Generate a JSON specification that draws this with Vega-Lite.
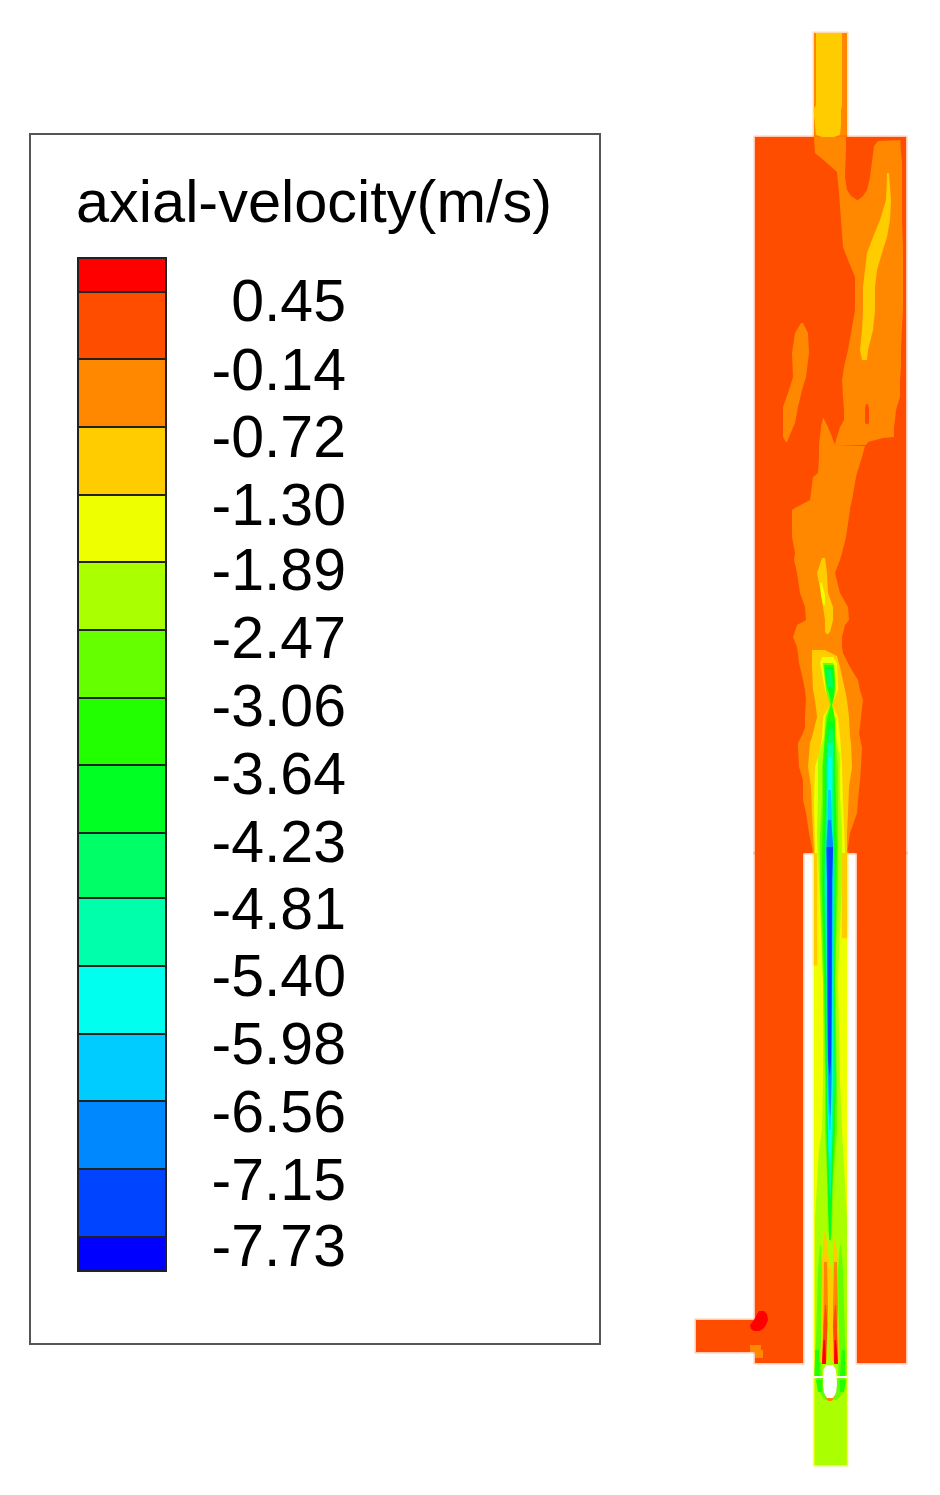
{"$schema":"https://vega.github.io/schema/vega-lite/v6.json","width":940,"height":1495,"padding":0,"autosize":{"type":"fit","contains":"padding"},"background":"white","view":{"stroke":null},
"config":{"axis":{"domain":false,"grid":false,"ticks":false,"labels":false,"title":null}},
"encoding":{},
"datasets":{
"bands":[
{"level":"L01","top":258,"bottom":292},{"level":"L02","top":292,"bottom":359},{"level":"L03","top":359,"bottom":427},{"level":"L04","top":427,"bottom":495},{"level":"L05","top":495,"bottom":562},{"level":"L06","top":562,"bottom":630},{"level":"L07","top":630,"bottom":698},{"level":"L08","top":698,"bottom":765},{"level":"L09","top":765,"bottom":833},{"level":"L10","top":833,"bottom":898},{"level":"L11","top":898,"bottom":966},{"level":"L12","top":966,"bottom":1034},{"level":"L13","top":1034,"bottom":1101},{"level":"L14","top":1101,"bottom":1169},{"level":"L15","top":1169,"bottom":1237},{"level":"L16","top":1237,"bottom":1271}],
"labels":[{"t":"0.45","y":321},{"t":"-0.14","y":390},{"t":"-0.72","y":457},{"t":"-1.30","y":525},{"t":"-1.89","y":590},{"t":"-2.47","y":658},{"t":"-3.06","y":726},{"t":"-3.64","y":794},{"t":"-4.23","y":862},{"t":"-4.81","y":929},{"t":"-5.40","y":996},{"t":"-5.98","y":1064},{"t":"-6.56","y":1132},{"t":"-7.15","y":1200},{"t":"-7.73","y":1266}],
"base":[
{"level":"L03","x":814,"x2":847,"y":33,"y2":137},
{"level":"L02","x":755,"x2":906,"y":137,"y2":853},
{"level":"L02","x":755,"x2":803,"y":853,"y2":1363},
{"level":"L02","x":857,"x2":906,"y":853,"y2":1363},
{"level":"L02","x":696,"x2":755,"y":1320,"y2":1352},
{"level":"L05","x":814,"x2":847,"y":853,"y2":1376},
{"level":"L05","x":814,"x2":847,"y":1378,"y2":1465},
{"level":"L06","x":815,"x2":846.5,"y":1378,"y2":1465},
{"level":"L04","x":814,"x2":817,"y":853,"y2":965},
{"level":"L04","x":842,"x2":847,"y":853,"y2":938}],
"spots":[
{"level":"void","x":814,"x2":823,"y":1376,"y2":1378},
{"level":"void","x":837,"x2":847,"y":1376,"y2":1378},
{"level":"L03","x":750,"x2":761,"y":1345,"y2":1352},
{"level":"L03","x":755,"x2":763,"y":1350,"y2":1358}],
"regions":[
{"region":"pipeY","level":"L04","y":33,"x":816,"x2":842},{"region":"pipeY","level":"L04","y":105,"x":816,"x2":842},{"region":"pipeY","level":"L04","y":110,"x":813.5,"x2":841},{"region":"pipeY","level":"L04","y":125,"x":815,"x2":841},{"region":"pipeY","level":"L04","y":135,"x":816,"x2":840},{"region":"pipeY","level":"L04","y":137,"x":822,"x2":834},
{"region":"A","level":"L03","y":137,"x":814,"x2":900},{"region":"A","level":"L03","y":153,"x":815,"x2":901},{"region":"A","level":"L03","y":163,"x":827,"x2":902},{"region":"A","level":"L03","y":172,"x":837,"x2":902},{"region":"A","level":"L03","y":193,"x":839,"x2":902},{"region":"A","level":"L03","y":220,"x":841,"x2":902},{"region":"A","level":"L03","y":247,"x":843,"x2":903},{"region":"A","level":"L03","y":260,"x":848,"x2":903},{"region":"A","level":"L03","y":277,"x":855,"x2":903},{"region":"A","level":"L03","y":310,"x":855,"x2":903},{"region":"A","level":"L03","y":327,"x":852,"x2":902},{"region":"A","level":"L03","y":350,"x":848,"x2":901},{"region":"A","level":"L03","y":367,"x":844,"x2":901},{"region":"A","level":"L03","y":380,"x":842,"x2":900},{"region":"A","level":"L03","y":397,"x":843,"x2":900},{"region":"A","level":"L03","y":410,"x":844,"x2":896},{"region":"A","level":"L03","y":420,"x":844,"x2":895},{"region":"A","level":"L03","y":427,"x":840,"x2":894},{"region":"A","level":"L03","y":437,"x":837,"x2":894},{"region":"A","level":"L03","y":438,"x":836.5,"x2":883},{"region":"A","level":"L03","y":442,"x":835.5,"x2":868},{"region":"A","level":"L03","y":445,"x":835,"x2":866},
{"region":"B","level":"L03","y":418,"x":823,"x2":823.5},{"region":"B","level":"L03","y":427,"x":821,"x2":828},{"region":"B","level":"L03","y":437,"x":820,"x2":832},{"region":"B","level":"L03","y":445,"x":819,"x2":835},{"region":"B","level":"L03","y":446,"x":819,"x2":865},{"region":"B","level":"L03","y":457,"x":819,"x2":862},{"region":"B","level":"L03","y":473,"x":818,"x2":857},{"region":"B","level":"L03","y":477,"x":813,"x2":856},{"region":"B","level":"L03","y":500,"x":810,"x2":852},{"region":"B","level":"L03","y":508,"x":795,"x2":850},{"region":"B","level":"L03","y":510,"x":792,"x2":850},{"region":"B","level":"L03","y":537,"x":792,"x2":846},{"region":"B","level":"L03","y":553,"x":795,"x2":842},{"region":"B","level":"L03","y":560,"x":794,"x2":840},{"region":"B","level":"L03","y":573,"x":797,"x2":835},{"region":"B","level":"L03","y":593,"x":800,"x2":840},{"region":"B","level":"L03","y":607,"x":805,"x2":848},{"region":"B","level":"L03","y":620,"x":806,"x2":849},{"region":"B","level":"L03","y":625,"x":797,"x2":845},{"region":"B","level":"L03","y":637,"x":793,"x2":842},{"region":"B","level":"L03","y":647,"x":797,"x2":842},{"region":"B","level":"L03","y":653,"x":798,"x2":843},{"region":"B","level":"L03","y":663,"x":799,"x2":848},{"region":"B","level":"L03","y":667,"x":800,"x2":850},{"region":"B","level":"L03","y":680,"x":803,"x2":858},{"region":"B","level":"L03","y":690,"x":805,"x2":860},{"region":"B","level":"L03","y":700,"x":806,"x2":863},{"region":"B","level":"L03","y":717,"x":805,"x2":861},{"region":"B","level":"L03","y":727,"x":805,"x2":860},{"region":"B","level":"L03","y":733,"x":803,"x2":859},{"region":"B","level":"L03","y":743,"x":798,"x2":861},{"region":"B","level":"L03","y":747,"x":798,"x2":862},{"region":"B","level":"L03","y":767,"x":799,"x2":861},{"region":"B","level":"L03","y":780,"x":803,"x2":860},{"region":"B","level":"L03","y":800,"x":803,"x2":858},{"region":"B","level":"L03","y":813,"x":806,"x2":857},{"region":"B","level":"L03","y":833,"x":809,"x2":850},{"region":"B","level":"L03","y":853,"x":813,"x2":847},
{"region":"C","level":"L03","y":323,"x":801,"x2":803},{"region":"C","level":"L03","y":333,"x":795,"x2":808},{"region":"C","level":"L03","y":353,"x":792,"x2":809},{"region":"C","level":"L03","y":377,"x":793,"x2":806},{"region":"C","level":"L03","y":390,"x":789,"x2":802},{"region":"C","level":"L03","y":407,"x":783,"x2":798},{"region":"C","level":"L03","y":423,"x":783,"x2":795},{"region":"C","level":"L03","y":437,"x":783,"x2":789},{"region":"C","level":"L03","y":442,"x":786,"x2":787},
{"region":"H1","level":"L02","y":137,"x":846,"x2":906},{"region":"H1","level":"L02","y":140,"x":846,"x2":905},{"region":"H1","level":"L02","y":141,"x":846,"x2":878},{"region":"H1","level":"L02","y":146,"x":846,"x2":874},{"region":"H1","level":"L02","y":177,"x":845,"x2":870},{"region":"H1","level":"L02","y":190,"x":847,"x2":867},{"region":"H1","level":"L02","y":196,"x":851,"x2":863},{"region":"H1","level":"L02","y":200,"x":857,"x2":858},
{"region":"H2","level":"L02","y":404,"x":866,"x2":867.5},{"region":"H2","level":"L02","y":408,"x":865,"x2":869},{"region":"H2","level":"L02","y":423,"x":865,"x2":869},{"region":"H2","level":"L02","y":424,"x":866,"x2":868},
{"region":"D","level":"L04","y":173,"x":887,"x2":889},{"region":"D","level":"L04","y":200,"x":886,"x2":891},{"region":"D","level":"L04","y":220,"x":880,"x2":890},{"region":"D","level":"L04","y":237,"x":873,"x2":887},{"region":"D","level":"L04","y":253,"x":867,"x2":882},{"region":"D","level":"L04","y":270,"x":865,"x2":877},{"region":"D","level":"L04","y":287,"x":863,"x2":875},{"region":"D","level":"L04","y":310,"x":863,"x2":875},{"region":"D","level":"L04","y":330,"x":862,"x2":873},{"region":"D","level":"L04","y":350,"x":860,"x2":868},{"region":"D","level":"L04","y":360,"x":862,"x2":867},
{"region":"E","level":"L04","y":558,"x":822,"x2":825},{"region":"E","level":"L04","y":573,"x":817,"x2":827},{"region":"E","level":"L04","y":593,"x":821,"x2":828},{"region":"E","level":"L04","y":607,"x":823,"x2":833},{"region":"E","level":"L04","y":620,"x":825,"x2":833},{"region":"E","level":"L04","y":632,"x":825,"x2":830},{"region":"E","level":"L04","y":634,"x":827,"x2":828},
{"region":"F","level":"L05","y":583,"x":820,"x2":822},{"region":"F","level":"L05","y":595,"x":821,"x2":825},{"region":"F","level":"L05","y":605,"x":823,"x2":825},
{"region":"G","level":"L04","y":650,"x":812,"x2":825},{"region":"G","level":"L04","y":656,"x":812,"x2":837},{"region":"G","level":"L04","y":667,"x":812,"x2":840},{"region":"G","level":"L04","y":690,"x":813,"x2":845},{"region":"G","level":"L04","y":700,"x":815,"x2":847},{"region":"G","level":"L04","y":717,"x":817,"x2":849},{"region":"G","level":"L04","y":737,"x":812,"x2":850},{"region":"G","level":"L04","y":743,"x":810,"x2":851},{"region":"G","level":"L04","y":767,"x":808,"x2":852},{"region":"G","level":"L04","y":787,"x":811,"x2":849},{"region":"G","level":"L04","y":813,"x":812,"x2":848},{"region":"G","level":"L04","y":833,"x":813,"x2":847},{"region":"G","level":"L04","y":853,"x":814,"x2":847},
{"region":"Y","level":"L05","y":657,"x":822,"x2":833},{"region":"Y","level":"L05","y":663,"x":820,"x2":837},{"region":"Y","level":"L05","y":690,"x":825,"x2":838},{"region":"Y","level":"L05","y":700,"x":829,"x2":834},{"region":"Y","level":"L05","y":705,"x":830,"x2":832},{"region":"Y","level":"L05","y":717,"x":823,"x2":838},{"region":"Y","level":"L05","y":737,"x":822,"x2":840},{"region":"Y","level":"L05","y":750,"x":820,"x2":841},{"region":"Y","level":"L05","y":767,"x":815,"x2":842},{"region":"Y","level":"L05","y":800,"x":814,"x2":843},{"region":"Y","level":"L05","y":853,"x":815,"x2":845},
{"region":"J6","level":"L06","y":664,"x":824,"x2":834},{"region":"J6","level":"L06","y":690,"x":826,"x2":836},{"region":"J6","level":"L06","y":705,"x":830,"x2":832},{"region":"J6","level":"L06","y":717,"x":825,"x2":835},{"region":"J6","level":"L06","y":737,"x":824,"x2":836},{"region":"J6","level":"L06","y":757,"x":818,"x2":840},{"region":"J6","level":"L06","y":800,"x":818,"x2":840},{"region":"J6","level":"L06","y":833,"x":817,"x2":842},{"region":"J6","level":"L06","y":880,"x":819,"x2":842},{"region":"J6","level":"L06","y":980,"x":823,"x2":838},{"region":"J6","level":"L06","y":1080,"x":823,"x2":840},{"region":"J6","level":"L06","y":1130,"x":822,"x2":842},{"region":"J6","level":"L06","y":1150,"x":819,"x2":843},{"region":"J6","level":"L06","y":1220,"x":815,"x2":847},{"region":"J6","level":"L06","y":1376,"x":815,"x2":847},
{"region":"J7","level":"L07","y":663,"x":823,"x2":833},{"region":"J7","level":"L07","y":690,"x":826,"x2":835},{"region":"J7","level":"L07","y":705,"x":830,"x2":832},{"region":"J7","level":"L07","y":717,"x":826,"x2":834},{"region":"J7","level":"L07","y":737,"x":825,"x2":835},{"region":"J7","level":"L07","y":767,"x":822,"x2":838},{"region":"J7","level":"L07","y":800,"x":822,"x2":838},{"region":"J7","level":"L07","y":833,"x":820,"x2":838},{"region":"J7","level":"L07","y":880,"x":820,"x2":838},{"region":"J7","level":"L07","y":980,"x":823,"x2":835},{"region":"J7","level":"L07","y":1080,"x":825,"x2":837},{"region":"J7","level":"L07","y":1130,"x":825,"x2":837},{"region":"J7","level":"L07","y":1180,"x":827,"x2":833},{"region":"J7","level":"L07","y":1230,"x":828,"x2":832},{"region":"J7","level":"L07","y":1240,"x":829.5,"x2":830.5},
{"region":"J8","level":"L08","y":665,"x":824,"x2":834},{"region":"J8","level":"L08","y":683,"x":826,"x2":835},{"region":"J8","level":"L08","y":697,"x":830,"x2":834},{"region":"J8","level":"L08","y":705,"x":831,"x2":832},{"region":"J8","level":"L08","y":720,"x":827,"x2":835},{"region":"J8","level":"L08","y":733,"x":825,"x2":835},{"region":"J8","level":"L08","y":767,"x":823,"x2":835},{"region":"J8","level":"L08","y":800,"x":823,"x2":836},{"region":"J8","level":"L08","y":850,"x":822,"x2":837},{"region":"J8","level":"L08","y":880,"x":821.5,"x2":836.5},{"region":"J8","level":"L08","y":980,"x":824,"x2":835},{"region":"J8","level":"L08","y":1080,"x":826,"x2":836},{"region":"J8","level":"L08","y":1130,"x":826,"x2":835},{"region":"J8","level":"L08","y":1200,"x":828.5,"x2":831.5},{"region":"J8","level":"L08","y":1240,"x":829.5,"x2":830.5},
{"region":"J9a","level":"L09","y":667,"x":825,"x2":833},{"region":"J9a","level":"L09","y":683,"x":827,"x2":834},{"region":"J9a","level":"L09","y":697,"x":830.5,"x2":833},
{"region":"J9b","level":"L09","y":722,"x":828,"x2":834},{"region":"J9b","level":"L09","y":767,"x":825.5,"x2":834.5},{"region":"J9b","level":"L09","y":800,"x":825,"x2":835},{"region":"J9b","level":"L09","y":850,"x":824,"x2":836},{"region":"J9b","level":"L09","y":880,"x":823,"x2":835},{"region":"J9b","level":"L09","y":980,"x":825,"x2":834},{"region":"J9b","level":"L09","y":1080,"x":826,"x2":835},{"region":"J9b","level":"L09","y":1130,"x":827,"x2":833},{"region":"J9b","level":"L09","y":1200,"x":828,"x2":832},{"region":"J9b","level":"L09","y":1240,"x":829.5,"x2":830.5},
{"region":"J10a","level":"L10","y":670,"x":826,"x2":831},{"region":"J10a","level":"L10","y":687,"x":828,"x2":833},
{"region":"J10b","level":"L10","y":730,"x":829,"x2":833},{"region":"J10b","level":"L10","y":743,"x":827,"x2":834},{"region":"J10b","level":"L10","y":767,"x":826,"x2":834},{"region":"J10b","level":"L10","y":800,"x":826,"x2":834},{"region":"J10b","level":"L10","y":833,"x":825,"x2":834},{"region":"J10b","level":"L10","y":880,"x":824,"x2":835},{"region":"J10b","level":"L10","y":980,"x":826,"x2":834},{"region":"J10b","level":"L10","y":1080,"x":827,"x2":835},{"region":"J10b","level":"L10","y":1130,"x":828,"x2":833},{"region":"J10b","level":"L10","y":1180,"x":829,"x2":831},{"region":"J10b","level":"L10","y":1200,"x":830,"x2":830.5},
{"region":"J11","level":"L11","y":743,"x":828,"x2":833},{"region":"J11","level":"L11","y":770,"x":827,"x2":833},{"region":"J11","level":"L11","y":800,"x":827,"x2":832.5},{"region":"J11","level":"L11","y":830,"x":826,"x2":833},{"region":"J11","level":"L11","y":880,"x":825,"x2":833},{"region":"J11","level":"L11","y":980,"x":826.5,"x2":833.5},{"region":"J11","level":"L11","y":1080,"x":827,"x2":833},{"region":"J11","level":"L11","y":1130,"x":828,"x2":832.5},{"region":"J11","level":"L11","y":1180,"x":829,"x2":831},{"region":"J11","level":"L11","y":1195,"x":830,"x2":830.5},
{"region":"J12","level":"L12","y":757,"x":828,"x2":832},{"region":"J12","level":"L12","y":783,"x":827.5,"x2":832},{"region":"J12","level":"L12","y":820,"x":827.5,"x2":832},{"region":"J12","level":"L12","y":880,"x":826,"x2":833},{"region":"J12","level":"L12","y":980,"x":827,"x2":833},{"region":"J12","level":"L12","y":1080,"x":827,"x2":832.5},{"region":"J12","level":"L12","y":1120,"x":828,"x2":832},{"region":"J12","level":"L12","y":1150,"x":828.5,"x2":831.5},{"region":"J12","level":"L12","y":1160,"x":830,"x2":830.5},
{"region":"J13","level":"L13","y":790,"x":828,"x2":831},{"region":"J13","level":"L13","y":820,"x":827.5,"x2":832},{"region":"J13","level":"L13","y":880,"x":826.5,"x2":832.5},{"region":"J13","level":"L13","y":980,"x":827,"x2":832.5},{"region":"J13","level":"L13","y":1080,"x":827.5,"x2":832},{"region":"J13","level":"L13","y":1110,"x":828.5,"x2":831},{"region":"J13","level":"L13","y":1130,"x":829.5,"x2":830.5},
{"region":"J14","level":"L14","y":820,"x":828,"x2":831},{"region":"J14","level":"L14","y":843,"x":826.5,"x2":833},{"region":"J14","level":"L14","y":880,"x":827,"x2":832.5},{"region":"J14","level":"L14","y":980,"x":827.5,"x2":832},{"region":"J14","level":"L14","y":1060,"x":828,"x2":831.5},{"region":"J14","level":"L14","y":1100,"x":829,"x2":831},{"region":"J14","level":"L14","y":1115,"x":830,"x2":830.5},
{"region":"J15","level":"L15","y":847,"x":826.5,"x2":833},{"region":"J15","level":"L15","y":880,"x":827,"x2":832},{"region":"J15","level":"L15","y":1000,"x":827.5,"x2":831.5},{"region":"J15","level":"L15","y":1060,"x":828,"x2":831},{"region":"J15","level":"L15","y":1075,"x":829.5,"x2":830},
{"region":"SL7","level":"L07","y":1245,"x":820,"x2":821},{"region":"SL7","level":"L07","y":1270,"x":818,"x2":822},{"region":"SL7","level":"L07","y":1340,"x":816,"x2":821},{"region":"SL7","level":"L07","y":1376,"x":814,"x2":822},
{"region":"SR7","level":"L07","y":1245,"x":840,"x2":841},{"region":"SR7","level":"L07","y":1270,"x":838,"x2":843},{"region":"SR7","level":"L07","y":1340,"x":839,"x2":845},{"region":"SR7","level":"L07","y":1376,"x":838,"x2":846},
{"region":"SL8","level":"L08","y":1350,"x":815,"x2":819},{"region":"SL8","level":"L08","y":1376,"x":815,"x2":820},
{"region":"SR8","level":"L08","y":1350,"x":842,"x2":845},{"region":"SR8","level":"L08","y":1376,"x":840,"x2":845},
{"region":"FL4","level":"L04","y":1232,"x":824.5,"x2":825.5},{"region":"FL4","level":"L04","y":1260,"x":822,"x2":829},{"region":"FL4","level":"L04","y":1290,"x":822,"x2":829},{"region":"FL4","level":"L04","y":1320,"x":822,"x2":828},{"region":"FL4","level":"L04","y":1362,"x":820,"x2":827},
{"region":"FR4","level":"L04","y":1240,"x":834.5,"x2":835.5},{"region":"FR4","level":"L04","y":1260,"x":833,"x2":838},{"region":"FR4","level":"L04","y":1290,"x":832,"x2":838},{"region":"FR4","level":"L04","y":1320,"x":832,"x2":838},{"region":"FR4","level":"L04","y":1362,"x":832,"x2":840},
{"region":"FL3","level":"L03","y":1262,"x":824,"x2":827},{"region":"FL3","level":"L03","y":1310,"x":823.5,"x2":828},{"region":"FL3","level":"L03","y":1330,"x":823,"x2":827},
{"region":"FR3","level":"L03","y":1262,"x":834,"x2":837},{"region":"FR3","level":"L03","y":1310,"x":833,"x2":838},{"region":"FR3","level":"L03","y":1330,"x":833,"x2":837},
{"region":"FL2","level":"L02","y":1305,"x":825,"x2":826},{"region":"FL2","level":"L02","y":1325,"x":823.5,"x2":827.5},{"region":"FL2","level":"L02","y":1362,"x":822,"x2":826},
{"region":"FR2","level":"L02","y":1305,"x":835,"x2":836},{"region":"FR2","level":"L02","y":1325,"x":833,"x2":837},{"region":"FR2","level":"L02","y":1362,"x":834,"x2":838},
{"region":"FL1","level":"L01","y":1340,"x":823.5,"x2":825},{"region":"FL1","level":"L01","y":1364,"x":822,"x2":826},
{"region":"FR1","level":"L01","y":1340,"x":834.5,"x2":836},{"region":"FR1","level":"L01","y":1364,"x":834,"x2":838},
{"region":"FC4","level":"L04","y":1265,"x":830,"x2":831},{"region":"FC4","level":"L04","y":1280,"x":828.5,"x2":832.5},{"region":"FC4","level":"L04","y":1320,"x":828.5,"x2":832},{"region":"FC4","level":"L04","y":1345,"x":829,"x2":831.5},{"region":"FC4","level":"L04","y":1360,"x":830,"x2":830.5},
{"region":"LL7","level":"L07","y":1378,"x":816,"x2":823},{"region":"LL7","level":"L07","y":1395,"x":821,"x2":827},{"region":"LL7","level":"L07","y":1400,"x":825,"x2":828},
{"region":"LR7","level":"L07","y":1378,"x":838,"x2":846},{"region":"LR7","level":"L07","y":1395,"x":834,"x2":841},{"region":"LR7","level":"L07","y":1400,"x":833,"x2":836},
{"region":"LL8","level":"L08","y":1380,"x":816,"x2":822},{"region":"LL8","level":"L08","y":1392,"x":818,"x2":822},
{"region":"LR8","level":"L08","y":1380,"x":840,"x2":846},{"region":"LR8","level":"L08","y":1392,"x":840,"x2":844},
{"region":"LA3","level":"L03","y":1396,"x":825,"x2":835},{"region":"LA3","level":"L03","y":1401,"x":828,"x2":832},
{"region":"hole","level":"void","y":1365,"x":826,"x2":833},{"region":"hole","level":"void","y":1370,"x":823.5,"x2":836},{"region":"hole","level":"void","y":1385,"x":823,"x2":837},{"region":"hole","level":"void","y":1393,"x":824,"x2":836},{"region":"hole","level":"void","y":1398,"x":827,"x2":833},
{"region":"red","level":"L01","y":1311,"x":759,"x2":764},{"region":"red","level":"L01","y":1314,"x":757,"x2":767},{"region":"red","level":"L01","y":1320,"x":754,"x2":768},{"region":"red","level":"L01","y":1325,"x":750,"x2":766},{"region":"red","level":"L01","y":1329,"x":751,"x2":763},{"region":"red","level":"L01","y":1331,"x":754,"x2":759}
]},
"layer":[
{"data":{"values":[{"x":30,"x2":600,"y":134,"y2":1344}]},"mark":{"type":"rect","fill":"white","stroke":"#555555","strokeWidth":2},
"encoding":{"x":{"field":"x","type":"quantitative","scale":{"domain":[0,940],"nice":false,"zero":false},"axis":null},"x2":{"field":"x2"},"y":{"field":"y","type":"quantitative","scale":{"domain":[1495,0],"nice":false,"zero":false},"axis":null},"y2":{"field":"y2"}}},
{"data":{"name":"bands"},"mark":{"type":"rect","stroke":"#222222","strokeWidth":2},
"encoding":{"x":{"datum":78,"type":"quantitative","axis":null},"x2":{"datum":166},"y":{"field":"top","type":"quantitative","axis":null},"y2":{"field":"bottom"},
"color":{"field":"level","type":"nominal","legend":null,"scale":{"domain":["L01","L02","L03","L04","L05","L06","L07","L08","L09","L10","L11","L12","L13","L14","L15","L16","void"],"range":["#ff0000","#ff4d00","#ff8800","#ffcc00","#eeff00","#aaff00","#66ff00","#22ff00","#00ff22","#00ff66","#00ffaa","#00ffee","#00ccff","#0088ff","#0044ff","#0000ff","#ffffff"]}}}},
{"data":{"values":[{"t":"axial-velocity(m/s)","x":76,"y":222}]},"mark":{"type":"text","align":"left","baseline":"alphabetic","font":"Liberation Sans","fontSize":59.5,"fill":"#000000"},"encoding":{"x":{"field":"x","type":"quantitative","axis":null},"y":{"field":"y","type":"quantitative","axis":null},"text":{"field":"t"}}},
{"data":{"name":"labels"},"mark":{"type":"text","align":"right","baseline":"alphabetic","font":"Liberation Sans","fontSize":59,"fill":"#000000"},"encoding":{"x":{"datum":346,"type":"quantitative","axis":null},"y":{"field":"y","type":"quantitative","axis":null},"text":{"field":"t"}}},
{"data":{"name":"base"},"mark":{"type":"rect","strokeWidth":3,"strokeOpacity":0.3},"encoding":{"x":{"field":"x","type":"quantitative","axis":null},"x2":{"field":"x2"},"y":{"field":"y","type":"quantitative","axis":null},"y2":{"field":"y2"},"color":{"field":"level","type":"nominal","legend":null},"stroke":{"field":"level","type":"nominal","legend":null,"scale":{"domain":["L01","L02","L03","L04","L05","L06","L07","L08","L09","L10","L11","L12","L13","L14","L15","L16","void"],"range":["#ff0000","#ff4d00","#ff8800","#ffcc00","#eeff00","#aaff00","#66ff00","#22ff00","#00ff22","#00ff66","#00ffaa","#00ffee","#00ccff","#0088ff","#0044ff","#0000ff","#ffffff"]}}}},
{"data":{"name":"regions"},"mark":{"type":"area","orient":"horizontal","interpolate":"linear"},"encoding":{"y":{"field":"y","type":"quantitative","axis":null},"x":{"field":"x","type":"quantitative","axis":null,"stack":null},"x2":{"field":"x2"},"detail":{"field":"region"},"color":{"field":"level","type":"nominal","legend":null}}},
{"data":{"name":"spots"},"mark":{"type":"rect"},"encoding":{"x":{"field":"x","type":"quantitative","axis":null},"x2":{"field":"x2"},"y":{"field":"y","type":"quantitative","axis":null},"y2":{"field":"y2"},"color":{"field":"level","type":"nominal","legend":null}}}
]}
